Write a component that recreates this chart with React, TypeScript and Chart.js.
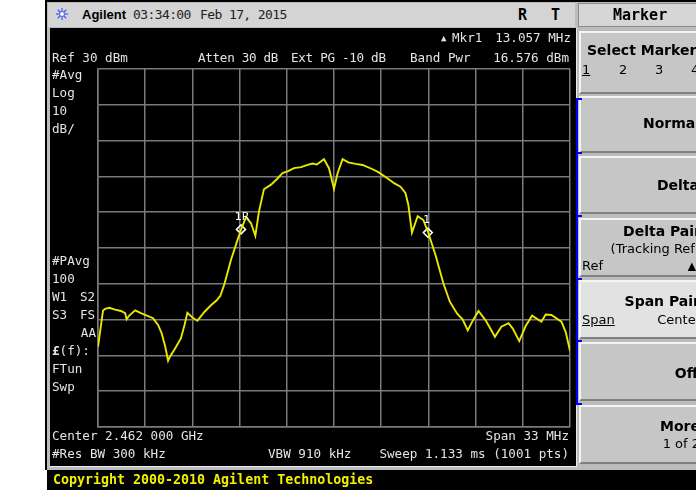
import React, { useEffect, useRef } from "react";
import { Chart, registerables } from "chart.js";

Chart.register(...registerables);

// Trace: frequency (MHz) and level (dBm)
const freqMHz = [
  2445.5, 2445.85, 2446.0, 2446.3, 2446.7, 2447.1, 2447.4, 2447.5, 2447.7, 2448.1,
  2448.5, 2448.8, 2449.35, 2449.7, 2449.95, 2450.2, 2450.4, 2450.55, 2450.9, 2451.3,
  2451.55, 2451.75, 2452.1, 2452.45, 2452.95, 2453.4, 2453.8, 2454.05, 2454.35, 2454.8,
  2455.25, 2455.5, 2455.85, 2456.2, 2456.5, 2456.75, 2457.1, 2457.6, 2458.0, 2458.4,
  2458.8, 2459.2, 2459.7, 2460.15, 2460.5, 2460.8, 2461.3, 2461.65, 2462.0, 2462.25,
  2462.6, 2463.0, 2463.5, 2464.0, 2464.7, 2465.1, 2465.5, 2465.9, 2466.2, 2466.65,
  2467.0, 2467.2, 2467.45, 2467.85, 2468.25, 2468.6, 2469.1, 2469.65, 2470.1, 2470.6,
  2471.0, 2471.35, 2471.7, 2472.1, 2472.6, 2473.0, 2473.25, 2473.7, 2474.2, 2474.5,
  2474.95, 2475.4, 2475.85, 2476.5, 2476.8, 2477.2, 2477.9, 2478.2, 2478.5,
];
const levelDbm = [
  -47.6, -37.5, -37.0, -36.7, -37.2, -37.6, -38.2, -39.9, -38.8, -37.4,
  -38.2, -38.7, -39.6, -41.5, -43.8, -47.5, -51.5, -50.2, -48.0, -45.2,
  -41.5, -38.1, -39.4, -40.3, -37.8, -36.0, -34.6, -33.4, -29.9, -23.3,
  -17.8, -14.9, -11.4, -13.1, -16.6, -9.9, -3.6, -2.3, -0.8, 0.9,
  1.5, 2.3, 2.6, 3.2, 3.6, 3.3, 4.8, 2.3, -3.5, 0.9,
  4.8, 3.9, 3.5, 3.2, 2.0, 1.2, 0.1, -1.0, -1.9, -2.9,
  -4.7, -8.0, -15.7, -11.1, -12.2, -15.8, -22.0, -29.9, -35.0, -38.3,
  -40.0, -43.0, -40.3, -37.6, -40.2, -43.0, -44.8, -42.0, -41.0, -42.5,
  -46.0, -41.8, -38.9, -40.6, -38.6, -38.7, -40.6, -43.5, -48.7,
];

// Grid divisions (center 2.462 GHz, span 33 MHz; ref 30 dBm, 10 dB/div)
const xGrid = [2445.5, 2448.8, 2452.1, 2455.4, 2458.7, 2462.0, 2465.3, 2468.6, 2471.9, 2475.2, 2478.5];
const yGrid = [-70, -60, -50, -40, -30, -20, -10, 0, 10, 20, 30];

// Markers
const markerFreq = [2455.5, 2468.557];
const markerLevel = [-14.8, -15.7];
const markerLabels = ["1R", "1"];

const GRID = "#7a7a7a";
const TRACE = "#e8e800";
const MONO = "'DejaVu Sans Mono', 'Liberation Mono', monospace";
const SANS = "'DejaVu Sans', 'Liberation Sans', sans-serif";

const markerLabelPlugin = {
  id: "markerLabels",
  afterDatasetsDraw(chart: any) {
    const { ctx, scales } = chart;
    ctx.save();
    ctx.fillStyle = "#ffffff";
    ctx.font = `11px ${SANS}`;
    ctx.textAlign = "center";
    ctx.textBaseline = "middle";
    markerFreq.forEach((f, i) => {
      const px = scales.x.getPixelForValue(f);
      const py = scales.y.getPixelForValue(markerLevel[i]);
      ctx.fillText(markerLabels[i], px + (i === 0 ? 1 : -1), py - 12);
    });
    ctx.restore();
  },
};

function SpectrumChart() {
  const ref = useRef<HTMLCanvasElement | null>(null);
  useEffect(() => {
    if (!ref.current) return;
    const chart = new Chart(ref.current, {
      type: "scatter",
      data: {
        datasets: [
          {
            data: freqMHz.map((f, i) => ({ x: f, y: levelDbm[i] })),
            showLine: true,
            borderColor: TRACE,
            borderWidth: 1.9,
            pointRadius: 0,
            tension: 0,
          } as any,
          {
            data: markerFreq.map((f, i) => ({ x: f, y: markerLevel[i] })),
            pointStyle: "rectRot",
            pointRadius: 4.5,
            borderColor: "#ffffff",
            borderWidth: 1.5,
            backgroundColor: "rgba(0,0,0,0)",
          } as any,
        ],
      },
      options: {
        animation: false,
        responsive: false,
        maintainAspectRatio: false,
        layout: { padding: { left: 48, top: 41, right: 4, bottom: 39 } },
        plugins: { legend: { display: false }, tooltip: { enabled: false } },
        scales: {
          x: {
            type: "linear",
            min: xGrid[0],
            max: xGrid[xGrid.length - 1],
            afterBuildTicks: (s: any) => {
              s.ticks = xGrid.map((v) => ({ value: v }));
            },
            ticks: { display: false },
            grid: { color: GRID, lineWidth: 1.5, drawTicks: false },
            border: { display: true, color: GRID, width: 1.5 },
          },
          y: {
            type: "linear",
            min: yGrid[0],
            max: yGrid[yGrid.length - 1],
            afterBuildTicks: (s: any) => {
              s.ticks = yGrid.map((v) => ({ value: v }));
            },
            ticks: { display: false },
            grid: { color: GRID, lineWidth: 1.5, drawTicks: false },
            border: { display: true, color: GRID, width: 1.5 },
          },
        },
      } as any,
      plugins: [markerLabelPlugin],
    });
    return () => chart.destroy();
  }, []);
  return (
    <canvas
      ref={ref}
      width={526}
      height={438}
      style={{ position: "absolute", left: 50, top: 28, width: 526, height: 438, background: "#000" }}
    />
  );
}

type TProps = {
  x: number;
  y: number;
  children: React.ReactNode;
  right?: boolean;
  size?: number;
  bold?: boolean;
  color?: string;
  font?: string;
  ls?: number;
  underline?: boolean;
};

function T({ x, y, children, right, size = 12.6, bold, color = "#e4e4e4", font = MONO, ls = 0, underline }: TProps) {
  const st: React.CSSProperties = {
    position: "absolute",
    top: y - 8,
    height: 16,
    lineHeight: "16px",
    fontFamily: font,
    fontSize: size,
    fontWeight: bold ? "bold" : "normal",
    color,
    whiteSpace: "pre",
    letterSpacing: ls,
    textDecoration: underline ? "underline" : "none",
  };
  if (right) st.right = 696 - x;
  else st.left = x;
  return <div style={st}>{children}</div>;
}

function Key({ top, height, light, children }: { top: number; height: number; light?: boolean; children?: React.ReactNode }) {
  return (
    <div
      style={{
        position: "absolute",
        left: 579,
        top,
        width: 130,
        height,
        background: light ? "#e2e2e2" : "#c6c6c6",
        borderTop: "2px solid #f4f4f4",
        borderLeft: "2px solid #f4f4f4",
        borderBottom: "2px solid #808080",
        boxSizing: "border-box",
      }}
    >
      {children}
    </div>
  );
}

function Star() {
  const lines = [];
  for (let i = 0; i < 8; i++) {
    const a = (i * Math.PI) / 4;
    lines.push(
      <line key={i} x1={7} y1={7} x2={7 + 6 * Math.cos(a)} y2={7 + 6 * Math.sin(a)} stroke="#4a5cf0" strokeWidth={1.2} />
    );
  }
  return (
    <svg width={14} height={14} style={{ position: "absolute", left: 55, top: 7 }}>
      {lines}
      <circle cx={7} cy={7} r={2.5} fill="#ffffff" stroke="#4a5cf0" strokeWidth={1} />
    </svg>
  );
}

export default function App() {
  const keySans = SANS;
  const blueTicks = [152, 215, 278, 340, 403];
  return (
    <div style={{ position: "fixed", left: 0, top: 0, width: 696, height: 493, background: "#fff", overflow: "hidden" }}>
      {/* frame */}
      <div style={{ position: "absolute", left: 45, top: 0, width: 2, height: 470, background: "#000" }} />
      <div style={{ position: "absolute", left: 45, top: 0, width: 651, height: 2, background: "#000" }} />
      <div style={{ position: "absolute", left: 47, top: 2, width: 649, height: 468, background: "#bcbcbc" }} />
      {/* header bar */}
      <div style={{ position: "absolute", left: 48, top: 3, width: 527, height: 24, background: "#d4d4d4" }} />
      <Star />
      <T x={82} y={15} size={13} bold font={"'Liberation Sans', Arial, sans-serif"} color="#000">Agilent</T>
      <T x={133} y={15} size={13} color="#222" ls={-0.6}>03:34:00</T>
      <T x={200} y={15} size={13} color="#222" ls={-0.6}>Feb 17, 2015</T>
      <T x={518} y={15} size={15} bold color="#000">R</T>
      <T x={551} y={15} size={15} bold color="#000">T</T>

      {/* screen */}
      <div
        style={{
          position: "absolute",
          left: 50,
          top: 28,
          width: 526,
          height: 438,
          background: "#000",
          borderRight: "1px solid #eaeaea",
          borderBottom: "1px solid #eaeaea",
        }}
      />
      <SpectrumChart />

      {/* screen annotations */}
      <T x={441} y={38} size={9}>▲</T>
      <T x={452} y={38}>Mkr1</T>
      <T x={571} y={38} right>13.057 MHz</T>
      <T x={52} y={58}>Ref 30 dBm</T>
      <T x={198} y={58} ls={-0.3}>Atten 30 dB</T>
      <T x={291} y={58} ls={-0.3}>Ext PG -10 dB</T>
      <T x={410} y={58}>Band Pwr</T>
      <T x={569} y={58} right>16.576 dBm</T>

      <T x={52} y={75}>#Avg</T>
      <T x={52} y={93}>Log</T>
      <T x={52} y={111}>10</T>
      <T x={52} y={129}>dB/</T>
      <T x={52} y={261}>#PAvg</T>
      <T x={52} y={279}>100</T>
      <T x={52} y={297}>W1</T>
      <T x={80} y={297}>S2</T>
      <T x={52} y={315}>S3</T>
      <T x={80} y={315}>FS</T>
      <T x={96} y={333} right>AA</T>
      <T x={52} y={351}><b>£</b>(f):</T>
      <T x={52} y={369}>FTun</T>
      <T x={52} y={387}>Swp</T>

      <T x={52} y={436}>Center 2.462 000 GHz</T>
      <T x={569} y={436} right>Span 33 MHz</T>
      <T x={52} y={454}>#Res BW 300 kHz</T>
      <T x={268} y={454}>VBW 910 kHz</T>
      <T x={569} y={454} right>Sweep 1.133 ms (1001 pts)</T>

      {/* right panel */}
      <div
        style={{
          position: "absolute",
          left: 578,
          top: 3,
          width: 130,
          height: 24,
          background: "#d6d6d6",
          border: "1px solid #8a8a8a",
          boxSizing: "border-box",
        }}
      />
      <T x={613} y={15} size={15} bold color="#000">Marker</T>

      <Key top={31} height={63} />
      <T x={587} y={50} size={14} bold font={keySans} color="#000">Select Marker</T>
      <T x={582} y={70} size={13} font={keySans} color="#000" underline>1</T>
      <T x={619} y={70} size={13} font={keySans} color="#000">2</T>
      <T x={655} y={70} size={13} font={keySans} color="#000">3</T>
      <T x={691} y={70} size={13} font={keySans} color="#000">4</T>

      <Key top={96} height={57} />
      <T x={700} y={123} right size={14} bold font={keySans} color="#000">Normal</T>

      <Key top={156} height={58} />
      <T x={699} y={185} right size={14} bold font={keySans} color="#000">Delta</T>

      <Key top={218} height={59} />
      <T x={701} y={231} right size={14} bold font={keySans} color="#000">Delta Pair</T>
      <T x={700} y={249} right size={13} font={keySans} color="#000">(Tracking Ref)</T>
      <T x={582} y={266} size={13} font={keySans} color="#000">Ref</T>
      <T x={688} y={266} size={10} font={keySans} color="#000" underline>▲</T>

      <Key top={280} height={59} light />
      <T x={700} y={301} right size={14} bold font={keySans} color="#000">Span Pair</T>
      <T x={582} y={320} size={13} font={keySans} color="#000" underline>Span</T>
      <T x={701} y={320} right size={13} font={keySans} color="#000">Center</T>

      <Key top={342} height={59} />
      <T x={698} y={373} right size={14} bold font={keySans} color="#000">Off</T>

      <Key top={405} height={59} />
      <T x={700} y={426} right size={14} bold font={keySans} color="#000">More</T>
      <T x={700} y={444} right size={13} font={keySans} color="#000">1 of 2</T>

      {/* blue bracket */}
      <div style={{ position: "absolute", left: 576, top: 98, width: 2, height: 306, background: "#0000ff" }} />
      <div style={{ position: "absolute", left: 576, top: 98, width: 6, height: 2, background: "#0000ff" }} />
      {blueTicks.map((t) => (
        <div key={t} style={{ position: "absolute", left: 576, top: t, width: 6, height: 2, background: "#0000ff" }} />
      ))}

      {/* copyright band */}
      <div style={{ position: "absolute", left: 47, top: 470, width: 649, height: 20, background: "#000" }} />
      <T x={53} y={480} size={13.3} bold color="#f0f000">Copyright 2000-2010 Agilent Technologies</T>
    </div>
  );
}
